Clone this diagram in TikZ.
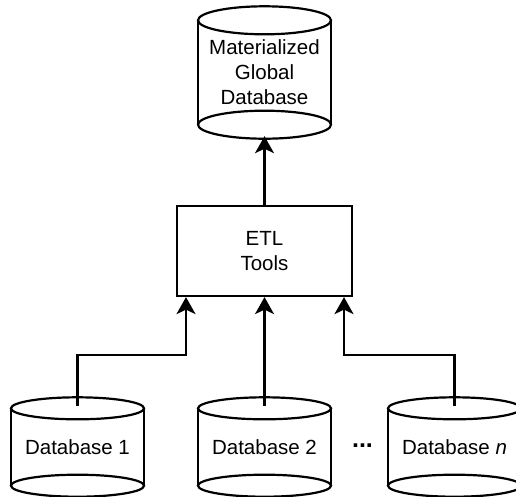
\documentclass[tikz,border=0pt]{standalone}
\usepackage{fontspec}
\setmainfont{Liberation Sans}
\usetikzlibrary{positioning,calc,arrows.meta}

\tikzset{
  dbase/.style n args={3}{draw=none, inner sep=0pt, minimum width=#1, minimum height=#2, align=center,
    append after command={\pgfextra{
      \begin{scope}[yshift=2.5pt, line width=2.2pt]
      \draw ($(\tikzlastnode.north)+(0,-#3)$) ellipse [x radius=#1/2, y radius=#3];
      \draw ($(\tikzlastnode.north west)+(0,-#3)$) -- ($(\tikzlastnode.south west)+(0,#3)$);
      \draw ($(\tikzlastnode.north east)+(0,-#3)$) -- ($(\tikzlastnode.south east)+(0,#3)$);
      \draw ($(\tikzlastnode.south)+(0,#3)$) ellipse [x radius=#1/2, y radius=#3];
      \end{scope}
    }}},
  tool/.style={draw, line width=2.2pt, minimum width=175pt, minimum height=90pt, align=center},
  flow/.style={line width=2.2pt, -{Stealth[length=17pt,width=19pt,inset=4.5pt]}},
}

\begin{document}
\begin{tikzpicture}[x=1pt, y=-1pt, every node/.style={font=\fontsize{20.5}{25}\selectfont}]

    \useasboundingbox (0,0) rectangle (516,496);

    \node[dbase={133pt}{132pt}{14pt}] (global) at (264.5,72.5) {Materialized\\Global\\Database};
    \node[tool] (etl) at (264.5,251) {ETL\\Tools};

    \node[dbase={133pt}{99pt}{11pt}] (db1) at (77.5,447) {Database 1};
    \node[dbase={133pt}{99pt}{11pt}] (db2) at (264.5,447) {Database 2};
    \node[dbase={133pt}{99pt}{11pt}] (dbn) at (454.5,447) {Database \textit{n}};
    \node[font=\fontsize{25}{25}\selectfont\bfseries] (dots) at (362.5,446) {...};

    \draw[flow] (etl.north) -- ([yshift=2.5pt]global.south);

    \draw[flow] ($(db1.north)+(0,-8.5pt)$) -- ++(0,-51) -| ([xshift=-78.5pt]etl.south);
    \draw[flow] ($(db2.north)+(0,-8.5pt)$) -- (etl.south);
    \draw[flow] ($(dbn.north)+(0,-8.5pt)$) -- ++(0,-51) -| ([xshift=79.5pt]etl.south);

\end{tikzpicture}
\end{document}
